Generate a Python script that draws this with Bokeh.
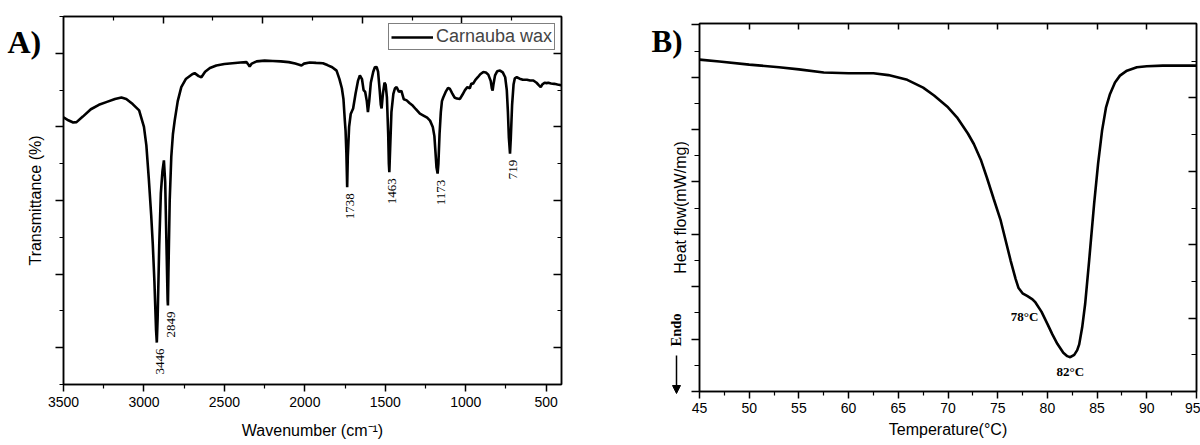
import math
from bokeh.plotting import figure
from bokeh.layouts import row
from bokeh.models import (LinearAxis, Range1d, FixedTicker, Legend, LegendItem,
                          Arrow, NormalHead, ColumnDataSource, CustomJSTickFormatter)
from bokeh.core.properties import value
from bokeh.embed import file_html
from bokeh.resources import INLINE

# ---------------- Panel A data (FTIR) ----------------
wavenumber = [3500, 3470, 3440, 3419, 3380, 3330, 3280, 3230, 3180, 3140, 3110, 3070, 3030, 3000,
              2985, 2970, 2955, 2945, 2935, 2925, 2920, 2915, 2905, 2895, 2885, 2876, 2868, 2860,
              2853, 2851, 2848, 2840, 2830, 2820, 2809, 2790, 2768, 2740, 2700, 2685, 2660, 2643,
              2620, 2590, 2550, 2500, 2450, 2400, 2363, 2350, 2343, 2330, 2300, 2250, 2199, 2150,
              2100, 2060, 2035, 2021, 2005, 1970, 1930, 1888, 1860, 1830, 1803, 1785, 1770, 1760,
              1752, 1747, 1742, 1737, 1733, 1725, 1715, 1700, 1685, 1670, 1658, 1645, 1635, 1625,
              1615, 1608, 1600, 1590, 1575, 1565, 1554, 1545, 1535, 1528, 1523, 1515, 1505, 1498,
              1490, 1482, 1478, 1475, 1470, 1462, 1450, 1440, 1430, 1415, 1400, 1385, 1367, 1350,
              1330, 1310, 1285, 1260, 1240, 1222, 1205, 1195, 1188, 1182, 1175, 1170, 1163, 1155,
              1148, 1140, 1125, 1110, 1098, 1085, 1070, 1055, 1036, 1020, 1005, 990, 975, 965, 955,
              940, 925, 910, 891, 875, 860, 845, 838, 833, 828, 818, 805, 787, 770, 755, 745, 738,
              732, 725, 720, 712, 703, 695, 683, 665, 645, 620, 600, 580, 560, 545, 534, 525, 510,
              497, 487, 470, 450, 430, 407]
transmittance = [72.6, 71.8, 71.2, 71.3, 72.8, 74.8, 76.0, 76.8, 77.6, 78.0, 77.6, 76.2, 74.5, 70.0,
                 65.0, 56.0, 46.0, 38.0, 28.0, 15.0, 11.4, 18.0, 38.0, 52.0, 58.0, 60.9, 55.0, 38.0,
                 23.0, 21.5, 30.0, 50.0, 62.0, 68.0, 71.7, 77.0, 80.8, 83.0, 84.3, 84.6, 83.8, 83.5,
                 85.0, 86.0, 86.7, 87.1, 87.3, 87.5, 87.6, 86.9, 86.4, 87.2, 87.8, 88.0, 87.9, 87.8,
                 87.6, 87.2, 86.9, 86.7, 87.2, 87.5, 87.4, 87.3, 86.8, 86.2, 85.3, 83.0, 80.5, 77.5,
                 72.0, 69.0, 63.0, 53.6, 62.0, 70.0, 73.5, 75.0, 79.0, 82.5, 84.0, 83.0, 80.0, 79.5,
                 77.0, 74.0, 77.0, 82.0, 85.0, 86.2, 86.3, 85.0, 80.0, 76.0, 75.0, 79.0, 82.0, 81.5,
                 78.0, 68.0, 60.0, 57.7, 64.0, 74.0, 79.0, 80.5, 80.8, 79.5, 79.8, 77.5, 77.2, 76.5,
                 75.8, 74.8, 73.6, 73.0, 72.5, 71.7, 70.0, 67.5, 63.0, 59.0, 57.3, 60.0, 68.0, 74.0,
                 77.0, 78.0, 79.5, 80.6, 80.3, 79.2, 78.0, 77.7, 77.6, 78.8, 80.0, 80.8, 80.5, 81.8, 81.7,
                 82.8, 83.5, 84.3, 84.9, 84.8, 84.2, 82.5, 80.5, 79.9, 81.5, 84.0, 85.1, 85.3, 84.8, 83.5, 80.0, 74.0,
                 67.0, 62.7, 67.0, 76.0, 81.5, 83.2, 83.5, 83.1, 82.8, 82.8, 82.6, 82.6, 82.0, 81.3, 80.8, 81.5, 82.0,
                 81.9, 82.0, 81.8, 81.7, 81.5, 81.3]
peak_labels = ["3446", "2849", "1738", "1463", "1173", "719"]
peak_wn = [2920, 2851, 1737, 1475, 1175, 725]
peak_t = [11.4, 21.5, 53.6, 57.7, 57.3, 62.7]
wn_major_ticks = [500, 1000, 1500, 2000, 2500, 3000, 3500]
wn_minor_ticks = [750, 1250, 1750, 2250, 2750, 3250]

# ---------------- Panel B data (DSC) ----------------
temperature = [45, 47, 50, 53, 55, 57.5, 60, 62.5, 64, 65.9, 67.5, 68.6, 70, 70.9, 72, 72.6, 73.3,
               73.9, 74.6, 75.3, 76.3, 76.8, 77.1, 77.5, 78.0, 78.5, 78.8, 79.4, 80.0, 80.5, 81.0,
               81.6, 82.0, 82.3, 82.7, 83.0, 83.2, 83.5, 83.8, 84.2, 84.7, 85.1, 85.5, 85.9, 86.3,
               86.8, 87.3, 88.0, 89.0, 90.0, 91.6, 93, 95]
heat_flow = [12.67, 12.60, 12.48, 12.38, 12.30, 12.18, 12.15, 12.15, 12.08, 11.90, 11.60, 11.30,
             10.85, 10.47, 9.85, 9.45, 8.85, 8.18, 7.35, 6.53, 5.00, 4.30, 3.95, 3.75, 3.64, 3.52,
             3.40, 3.05, 2.58, 2.18, 1.82, 1.48, 1.35, 1.31, 1.40, 1.58, 1.80, 2.45, 3.35, 5.00,
             7.16, 8.70, 9.96, 10.85, 11.36, 11.80, 12.06, 12.25, 12.38, 12.42, 12.44, 12.44, 12.44]
dsc_labels = ["78°C", "82°C"]
dsc_T = [78.0, 82.3]
dsc_hf = [3.64, 1.31]
temp_major_ticks = [45, 50, 55, 60, 65, 70, 75, 80, 85, 90, 95]
temp_minor_ticks = [47.5, 52.5, 57.5, 62.5, 67.5, 72.5, 77.5, 82.5, 87.5, 92.5]

SANS = "Liberation Sans"
SERIF = "Liberation Serif"
H = 445
BLANK = CustomJSTickFormatter(code="return ''")


def style_axis(ax, tick_in, tick_out, show_labels=False):
    ax.axis_line_color = "black"
    ax.axis_line_width = 1.5
    ax.major_tick_line_color = "black"
    ax.minor_tick_line_color = "black"
    ax.major_tick_line_width = 1.5
    ax.minor_tick_line_width = 1.2
    ax.major_tick_in = tick_in[0]
    ax.minor_tick_in = tick_in[1]
    ax.major_tick_out = tick_out[0]
    ax.minor_tick_out = tick_out[1]
    ax.major_label_text_font = SANS
    ax.major_label_text_color = "black"
    if show_labels:
        ax.major_label_text_font_size = "14px"
    else:
        ax.formatter = BLANK
        ax.major_label_text_font_size = "1px"
        ax.major_label_standoff = 0
    ax.axis_label_text_font = SANS
    ax.axis_label_text_font_style = "normal"
    ax.axis_label_text_font_size = "16px"
    ax.axis_label_text_color = "black"


def make_fig(width, **kw):
    p = figure(width=width, height=H, output_backend="svg", toolbar_location=None, **kw)
    if "frame_align" in p.properties():
        p.frame_align = False
    p.xgrid.visible = False
    p.ygrid.visible = False
    p.border_fill_color = None
    return p


def make_strip(width):
    # a blank side strip (pixel coordinates, origin bottom-left) holding the outer texts
    s = make_fig(width, x_range=Range1d(0, width), y_range=Range1d(0, H),
                 x_axis_location=None, y_axis_location=None,
                 min_border_left=0, min_border_right=0, min_border_top=0, min_border_bottom=0)
    s.outline_line_color = None
    s.background_fill_color = None
    return s


# ================= Panel A =================
STRIP_A = 46
sa = make_strip(STRIP_A)
sa.text(x=[7], y=[H - 41], text=["A)"], text_font=value(SERIF), text_font_style="bold",
        text_font_size="32px", text_baseline="alphabetic", text_align="left",
        text_color="black")
sa.text(x=[35], y=[H - 200], text=["Transmittance (%)"], angle=math.pi / 2,
        text_font=value(SANS), text_font_size="16px", text_baseline="middle",
        text_align="center", text_color="black")

pa = make_fig(600 - STRIP_A, x_range=Range1d(3500, 405), y_range=Range1d(0, 100),
              min_border_left=63 - STRIP_A, min_border_right=39, min_border_top=16,
              min_border_bottom=61)
pa.outline_line_color = "black"
pa.outline_line_width = 1.5

ax_b = pa.xaxis[0]
ax_b.ticker = FixedTicker(ticks=wn_major_ticks, minor_ticks=wn_minor_ticks)
style_axis(ax_b, (0, 0), (7, 4), show_labels=True)
ax_b.major_label_standoff = 5
ax_b.axis_label = "Wavenumber (cm⁻¹)"
ax_b.axis_label_standoff = 12

ax_l = pa.yaxis[0]
ax_l.ticker = FixedTicker(ticks=[10, 30, 50, 70, 90], minor_ticks=[0, 20, 40, 60, 80, 100])
style_axis(ax_l, (0, 0), (8, 4))

pa.extra_x_ranges = {"top": Range1d(0, 10)}
ax_t = LinearAxis(x_range_name="top",
                  ticker=FixedTicker(ticks=[2, 4, 6, 8], minor_ticks=[1, 3, 5, 7, 9]))
style_axis(ax_t, (7, 4), (0, 0))
pa.add_layout(ax_t, "above")

ax_r = LinearAxis(ticker=FixedTicker(ticks=[10, 30, 50, 70, 90], minor_ticks=[20, 40, 60, 80]))
style_axis(ax_r, (8, 4), (0, 0))
pa.add_layout(ax_r, "right")

src_a = ColumnDataSource(dict(x=wavenumber, y=transmittance))
line_a = pa.line("x", "y", source=src_a, line_color="black", line_width=2.6)

src_pk = ColumnDataSource(dict(x=peak_wn, y=peak_t, t=peak_labels))
pa.text("x", "y", text="t", source=src_pk, angle=math.pi / 2, text_align="right",
        text_baseline="middle", x_offset=3, y_offset=6,
        text_font=value(SERIF), text_font_size="13px", text_color="black")

legend = Legend(items=[LegendItem(label="Carnauba wax", renderers=[line_a])],
                location=(325, 334), glyph_width=42, glyph_height=16,
                label_text_font=SANS, label_text_font_size="18px", label_standoff=3,
                padding=2, margin=0, spacing=0, border_line_color="black",
                border_line_width=1, background_fill_alpha=1, label_height=16)
pa.add_layout(legend)

# ================= Panel B =================
STRIP_B = 89
sb = make_strip(STRIP_B)
sb.text(x=[51], y=[H - 41], text=["B)"], text_font=value(SERIF), text_font_style="bold",
        text_font_size="31px", text_baseline="alphabetic", text_align="left",
        text_color="black")
sb.text(x=[80], y=[H - 207], text=["Heat flow(mW/mg)"], angle=math.pi / 2,
        text_font=value(SANS), text_font_size="16px", text_baseline="middle",
        text_align="center", text_color="black")
sb.text(x=[75], y=[H - 346], text=["Endo"], angle=math.pi / 2,
        text_font=value(SERIF), text_font_style="bold", text_font_size="14.5px",
        text_baseline="middle", text_align="left", text_color="black")
sb.add_layout(Arrow(x_start=76, y_start=H - 355, x_end=76, y_end=H - 393,
                    line_color="black", line_width=1.5,
                    end=NormalHead(size=8, fill_color="black", line_color="black")))

pb = make_fig(600 - STRIP_B, x_range=Range1d(45, 95), y_range=Range1d(0, 14.05),
              min_border_left=99 - STRIP_B, min_border_right=4, min_border_top=23,
              min_border_bottom=54)
pb.outline_line_color = "black"
pb.outline_line_width = 1.5

bx_b = pb.xaxis[0]
bx_b.ticker = FixedTicker(ticks=temp_major_ticks, minor_ticks=temp_minor_ticks)
style_axis(bx_b, (0, 0), (7, 4), show_labels=True)
bx_b.major_label_standoff = 4
bx_b.axis_label = "Temperature(°C)"
bx_b.axis_label_standoff = 5

bx_l = pb.yaxis[0]
bx_l.ticker = FixedTicker(ticks=[0, 2, 4, 6, 8, 10, 12, 14], minor_ticks=[1, 3, 5, 7, 9, 11, 13])
style_axis(bx_l, (0, 0), (8, 5))

bx_t = LinearAxis(ticker=FixedTicker(ticks=[50, 55, 60, 65, 70, 75, 80, 85, 90], minor_ticks=[]))
style_axis(bx_t, (6, 0), (0, 0))
pb.add_layout(bx_t, "above")

pb.extra_y_ranges = {"r": Range1d(0, 10.03)}
bx_r = LinearAxis(y_range_name="r",
                  ticker=FixedTicker(ticks=[2, 4, 6, 8], minor_ticks=[1, 3, 5, 7, 9]))
style_axis(bx_r, (8, 5), (0, 0))
pb.add_layout(bx_r, "right")

src_b = ColumnDataSource(dict(x=temperature, y=heat_flow))
pb.line("x", "y", source=src_b, line_color="black", line_width=2.6)

src_dl = ColumnDataSource(dict(x=dsc_T, y=dsc_hf, t=dsc_labels,
                               dx=[-3, 0], dy=[20, 14]))
pb.text("x", "y", text="t", source=src_dl, text_align="center", text_baseline="middle",
        y_offset="dy", x_offset="dx",
        text_font=value(SERIF), text_font_style="bold", text_font_size="13px",
        text_color="black")

layout = row(sa, pa, sb, pb)
open("out.html", "w").write(file_html(layout, INLINE))
